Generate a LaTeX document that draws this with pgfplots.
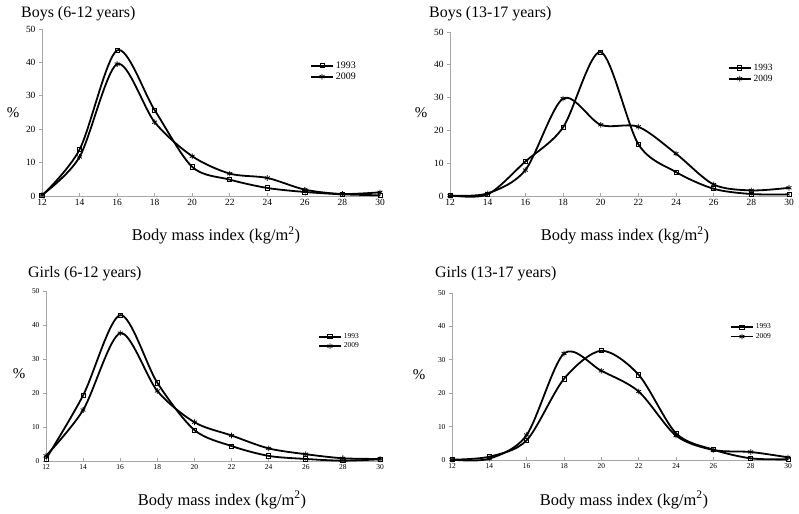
\documentclass[border=0pt]{standalone}
\usepackage{fontspec}
\setmainfont{Liberation Serif}
\usepackage{pgfplots}
\pgfplotsset{compat=1.18}
\pgfplotsset{
  bmi/.style={
    scale only axis,
    xmin=12, xmax=30, ymin=0, ymax=50,
    enlargelimits=false,
    axis x line=bottom, axis y line=left,
    axis line style={-, gray!70, line width=0.6bp},
    xtick={12,14,...,30}, ytick={0,10,...,50},
    tick style={gray!70, line width=0.6bp},
    major tick length=3bp,
    xtick align=inside, ytick align=outside,
    /pgf/number format/assume math mode=true,
    legend cell align=left,
    legend image code/.code={\draw[mark repeat=2,mark phase=2,#1] plot coordinates {(0bp,0bp) (11bp,0bp) (22bp,0bp)};},
    clip=false,
  },
  y93/.style={black, line width=1.8bp, smooth, tension=0.5, mark=square, mark size=2.1bp, mark options={line width=0.8bp, solid}},
  y09/.style={black, line width=1.8bp, smooth, tension=0.5, mark=asterisk, mark size=2.8bp, mark options={line width=0.8bp, solid}},
}
\begin{document}
\begin{tikzpicture}
\useasboundingbox (0,0) rectangle (799bp,514bp);
% Panel 1: Boys 6-12
\begin{axis}[bmi, at={(42bp,318bp)}, anchor=south west, width=338bp, height=167bp,
  tick label style={font=\fontsize{9.5}{10}\selectfont},
  legend style={at={(0.784,0.83)}, anchor=north west, draw=none, fill=none, font=\fontsize{10}{11}\selectfont, row sep=-1bp}]
\addplot[y93] coordinates {(12,0.1) (14,13.9) (16,43.6) (18,25.7) (20,8.7) (22,4.9) (24,2.4) (26,1.2) (28,0.5) (30,0.2)};
\addlegendentry{1993}
\addplot[y09] coordinates {(12,0.3) (14,11.7) (16,39.5) (18,22.1) (20,11.9) (22,6.7) (24,5.4) (26,1.9) (28,0.6) (30,1.1)};
\addlegendentry{2009}
\end{axis}
% Panel 2: Boys 13-17
\begin{axis}[bmi, at={(450bp,318bp)}, anchor=south west, width=339bp, height=164bp,
  tick label style={font=\fontsize{9.5}{10}\selectfont},
  legend style={at={(0.81,0.83)}, anchor=north west, draw=none, fill=none, font=\fontsize{9.5}{10.5}\selectfont, row sep=-1bp}]
\addplot[y93] coordinates {(12,0.2) (14,0.5) (16,10.5) (18,20.9) (20,43.9) (22,15.8) (24,7.3) (26,2.2) (28,0.6) (30,0.5)};
\addlegendentry{1993}
\addplot[y09] coordinates {(12,0.1) (14,0.8) (16,7.9) (18,29.7) (20,21.7) (22,21.1) (24,12.9) (26,3.5) (28,1.7) (30,2.5)};
\addlegendentry{2009}
\end{axis}
% Panel 3: Girls 6-12
\begin{axis}[bmi, at={(46bp,53bp)}, anchor=south west, width=334bp, height=170bp,
  tick label style={font=\fontsize{7.5}{8}\selectfont},
  legend style={at={(0.805,0.775)}, anchor=north west, draw=none, fill=none, font=\fontsize{7.5}{8.5}\selectfont, row sep=-1bp}]
\addplot[y93] coordinates {(12,0.6) (14,19.3) (16,42.9) (18,23.0) (20,9.1) (22,4.4) (24,1.5) (26,0.6) (28,0.1) (30,0.5)};
\addlegendentry{1993}
\addplot[y09] coordinates {(12,1.5) (14,15.0) (16,37.6) (18,20.6) (20,11.4) (22,7.5) (24,3.7) (26,2.0) (28,0.8) (30,0.6)};
\addlegendentry{2009}
\end{axis}
% Panel 4: Girls 13-17
\begin{axis}[bmi, at={(452bp,54bp)}, anchor=south west, width=336bp, height=167bp,
  tick label style={font=\fontsize{7.5}{8}\selectfont},
  legend style={at={(0.818,0.84)}, anchor=north west, draw=none, fill=none, font=\fontsize{7.5}{8.5}\selectfont, row sep=-1bp}]
\addplot[y93] coordinates {(12,0.1) (14,1.0) (16,5.9) (18,24.3) (20,32.7) (22,25.5) (24,8.0) (26,3.1) (28,0.5) (30,0.2)};
\addlegendentry{1993}
\addplot[y09] coordinates {(12,0.1) (14,0.4) (16,7.5) (18,31.9) (20,26.7) (22,20.5) (24,7.3) (26,3.0) (28,2.4) (30,0.8)};
\addlegendentry{2009}
\end{axis}
% Titles
\node[anchor=base west, inner sep=0, font=\fontsize{16}{18}\selectfont] at (21bp,496bp) {Boys (6-12 years)};
\node[anchor=base west, inner sep=0, font=\fontsize{16}{18}\selectfont] at (429bp,496bp) {Boys (13-17 years)};
\node[anchor=base west, inner sep=0, font=\fontsize{16}{18}\selectfont] at (28bp,236bp) {Girls (6-12 years)};
\node[anchor=base west, inner sep=0, font=\fontsize{16}{18}\selectfont] at (435bp,236bp) {Girls (13-17 years)};
% x labels
\node[anchor=base, inner sep=0, font=\fontsize{16.5}{18}\selectfont] at (216bp,273bp) {Body mass index (kg/m\textsuperscript{2})};
\node[anchor=base, inner sep=0, font=\fontsize{16.5}{18}\selectfont] at (625bp,273bp) {Body mass index (kg/m\textsuperscript{2})};
\node[anchor=base, inner sep=0, font=\fontsize{16.5}{18}\selectfont] at (222bp,9bp) {Body mass index (kg/m\textsuperscript{2})};
\node[anchor=base, inner sep=0, font=\fontsize{16.5}{18}\selectfont] at (624bp,9bp) {Body mass index (kg/m\textsuperscript{2})};
% y labels
\node[font=\fontsize{15}{16}\selectfont, inner sep=0] at (13bp,401bp) {\%};
\node[font=\fontsize{15}{16}\selectfont, inner sep=0] at (421bp,401bp) {\%};
\node[font=\fontsize{15}{16}\selectfont, inner sep=0] at (19bp,140bp) {\%};
\node[font=\fontsize{15}{16}\selectfont, inner sep=0] at (419bp,139bp) {\%};
\end{tikzpicture}
\end{document}
